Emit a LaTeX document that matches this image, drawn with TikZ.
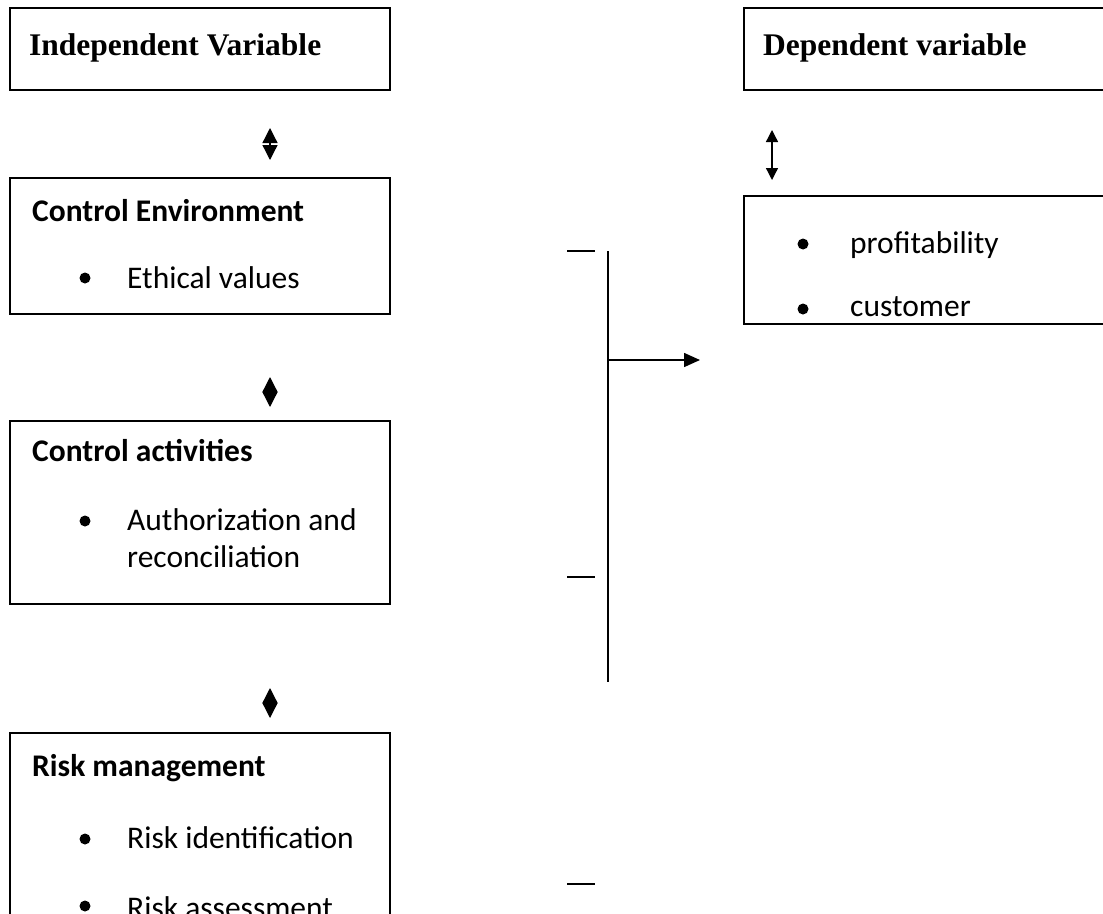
\documentclass[tikz,border=0pt]{standalone}
\usepackage{fontspec}
\setmainfont{Carlito}
\newfontfamily\tnr{Liberation Serif}
\usetikzlibrary{arrows.meta}
\newcommand{\bigsz}{\fontsize{31.5}{36.5}\selectfont}
\tikzset{
  box/.style={draw, line width=1.6pt, inner sep=0pt, anchor=north west, minimum width=380pt},
  head/.style={anchor=base west, inner sep=0pt, font=\tnr\bigsz\bfseries},
  ttl/.style={anchor=base west, inner sep=0pt, font=\bigsz\bfseries},
  item/.style={anchor=base west, inner sep=0pt, align=left, font=\bigsz},
  bul/.style={circle, fill, inner sep=0pt, minimum size=11pt},
  dia/.style={line width=1.3pt, {Triangle[length=15pt,width=15pt]}-{Triangle[length=15pt,width=15pt]}},
  dbl/.style={line width=1.3pt, {Triangle[length=12pt,width=12pt]}-{Triangle[length=12pt,width=12pt]}},
  arr/.style={line width=1.6pt, -{Triangle[length=16pt,width=14pt]}},
  ln/.style={line width=1.6pt},
}

\begin{document}
\begin{tikzpicture}[x=1pt, y=-1pt]
  \useasboundingbox (0,0) rectangle (1103,913);
  \clip (0,0) rectangle (1103,913);
  % left column
  \node[box, minimum height=82pt] (iv) at (9,7) {};
  \node[head] (ivt) at (29,55) {Independent Variable};
  \node[box, minimum height=136pt] (ce) at (9,177) {};
  \node[ttl] (cet) at (32,221) {Control Environment};
  \node[bul] (ceb) at (85,278) {};
  \node[item] (cei) at (127,288) {Ethical values};
  \node[box, minimum height=183pt] (ca) at (9,420) {};
  \node[ttl] (cat) at (32,461) {Control activities};
  \node[bul] (cab) at (85,521) {};
  \node[item] (cai) at (127,567) {Authorization and\\reconciliation};
  \node[box, minimum height=220pt] (rm) at (9,732) {};
  \node[ttl] (rmt) at (32,776) {Risk management};
  \node[bul] (rmb1) at (85,839) {};
  \node[item] (rmi1) at (127,848) {Risk identification};
  \node[bul] (rmb2) at (85,906) {};
  \node[item] (rmi2) at (127,918) {Risk assessment};
  % right column
  \node[box, minimum width=400pt, minimum height=82pt] (dv) at (743,7) {};
  \node[head] (dvt) at (763,55) {Dependent variable};
  \node[box, minimum width=400pt, minimum height=128pt] (res) at (743,195) {};
  \node[bul] (resb1) at (803,244) {};
  \node[item] (resi1) at (850,253) {profitability};
  \node[bul] (resb2) at (803,309) {};
  \node[item] (resi2) at (850,316) {customer};
  % arrows
  \coordinate (d1a) at (270,128); \coordinate (d1b) at (270,160);
  \coordinate (d2a) at (270,377); \coordinate (d2b) at (270,407);
  \coordinate (d3a) at (270,688); \coordinate (d3b) at (270,718);
  \draw[dia] (d1a) -- (d1b);
  \draw[dia] (d2a) -- (d2b);
  \draw[dia] (d3a) -- (d3b);
  \coordinate (u1) at (772,130); \coordinate (u2) at (772,180);
  \draw[dbl] (u1) -- (u2);
  % brace line
  \coordinate (vt) at (608,251); \coordinate (vb) at (608,682);
  \coordinate (vm) at (608,360); \coordinate (ve) at (700,360);
  \draw[ln] (vt) -- (vb);
  \draw[arr] (vm) -- (ve);
  \coordinate (m1a) at (567,251); \coordinate (m1b) at (595,251);
  \coordinate (m2a) at (567,577); \coordinate (m2b) at (595,577);
  \coordinate (m3a) at (567,884); \coordinate (m3b) at (595,884);
  \draw[ln] (m1a) -- (m1b);
  \draw[ln] (m2a) -- (m2b);
  \draw[ln] (m3a) -- (m3b);
\end{tikzpicture}
\end{document}
